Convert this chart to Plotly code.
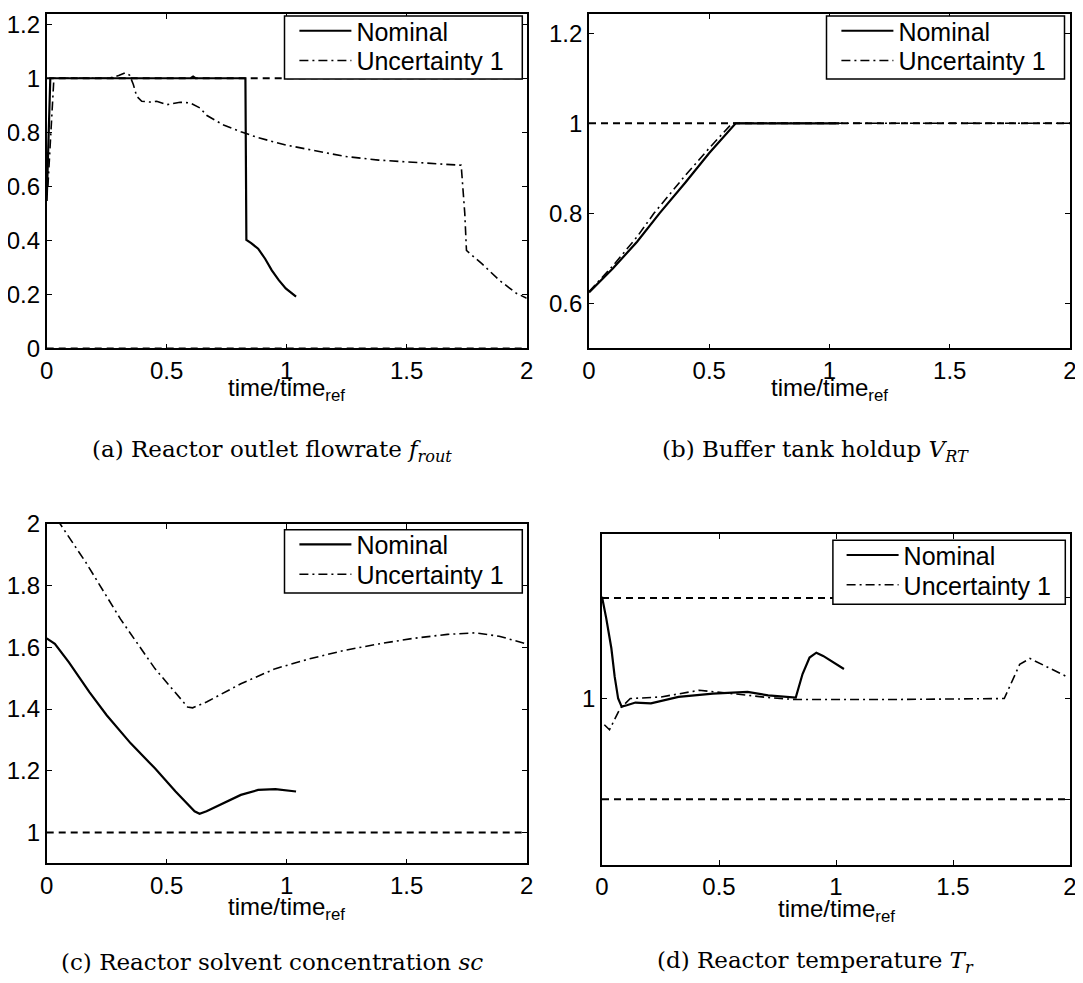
import plotly.graph_objects as go

# The page body has an 8px default margin; the figure is sized/offset so the
# visible picture lines up with the 1083x983 window.
OFF = 8
W, H = 1083 - OFF, 983 - OFF

# ---------------- data ----------------
# (a) Reactor outlet flowrate
a_nom_t = [0.0, 0.015, 0.10, 0.30, 0.60, 0.61, 0.62, 0.828, 0.832, 0.852, 0.881, 0.910, 0.938, 0.967, 0.996, 1.039]
a_nom_y = [0.546, 1.0, 1.0, 1.0, 1.0, 1.006, 1.0, 1.0, 0.402, 0.390, 0.369, 0.332, 0.289, 0.253, 0.222, 0.192]
a_unc_t = [0.005, 0.03, 0.10, 0.26, 0.30, 0.326, 0.345, 0.361, 0.375, 0.396, 0.43, 0.458, 0.50, 0.556, 0.597,
           0.639, 0.666, 0.737, 0.809, 0.881, 0.996, 1.096, 1.24, 1.383, 1.527, 1.67, 1.727, 1.742, 1.749,
           1.756, 1.813, 1.885, 1.957, 2.0]
a_unc_y = [0.60, 1.0, 1.0, 1.0, 1.01, 1.02, 1.012, 0.977, 0.933, 0.915, 0.912, 0.915, 0.902, 0.911, 0.909,
           0.89, 0.863, 0.827, 0.802, 0.780, 0.753, 0.735, 0.711, 0.697, 0.689, 0.680, 0.678, 0.50, 0.363,
           0.357, 0.314, 0.253, 0.204, 0.186]
a_bounds = [0.0, 1.0]

# (b) Buffer tank holdup
b_nom_t = [0.0, 0.1, 0.2, 0.293, 0.4, 0.5, 0.61, 1.04]
b_nom_y = [0.6245, 0.678, 0.737, 0.80, 0.868, 0.934, 1.0, 1.0]
b_unc_t = [0.0, 0.1, 0.2, 0.27, 0.4, 0.5, 0.595, 2.0]
b_unc_y = [0.626, 0.684, 0.748, 0.80, 0.884, 0.945, 1.0, 1.0]
b_bounds = [1.0]

# (c) Reactor solvent concentration
c_nom_t = [0.0, 0.034, 0.092, 0.178, 0.25, 0.35, 0.451, 0.537, 0.616, 0.637, 0.666, 0.737, 0.809, 0.881, 0.953, 1.039]
c_nom_y = [1.629, 1.611, 1.552, 1.455, 1.380, 1.289, 1.208, 1.133, 1.069, 1.061, 1.069, 1.096, 1.122, 1.138, 1.141, 1.133]
c_unc_t = [0.0, 0.056, 0.164, 0.307, 0.451, 0.587, 0.608, 0.666, 0.809, 0.953, 1.096, 1.24, 1.383, 1.527, 1.67, 1.785, 1.885, 2.0]
c_unc_y = [2.065, 2.0, 1.874, 1.692, 1.531, 1.407, 1.404, 1.423, 1.482, 1.531, 1.563, 1.590, 1.611, 1.629, 1.642, 1.647, 1.636, 1.611]
c_bounds = [1.0]

# (d) Reactor temperature
d_nom_t = [0.0, 0.018, 0.040, 0.054, 0.069, 0.084, 0.106, 0.143, 0.209, 0.327, 0.474, 0.622, 0.71, 0.828, 0.857, 0.887, 0.916, 0.945, 1.034]
d_nom_y = [1.0506, 1.040, 1.025, 1.011, 1.0, 0.996, 0.9967, 0.998, 0.9976, 1.0008, 1.0024, 1.0033, 1.0016, 1.0005, 1.0122, 1.0204, 1.0228, 1.0212, 1.0147]
d_unc_t = [0.01, 0.032, 0.077, 0.121, 0.253, 0.415, 0.563, 0.71, 0.828, 1.21, 1.719, 1.785, 1.829, 1.903, 1.991]
d_unc_y = [0.987, 0.9845, 0.995, 1.0, 1.0008, 1.0041, 1.0024, 1.0005, 0.9995, 0.9995, 1.0, 1.017, 1.0199, 1.0155, 1.0106]
d_bounds = [1.05, 0.95]

x_ticks = [0, 0.5, 1, 1.5, 2]
x_ticktext = ["0", "0.5", "1", "1.5", "2"]
series_names = ["Nominal", "Uncertainty 1"]

captions = [
    "(a) Reactor outlet flowrate <i>f</i><sub><i>rout</i></sub>",
    "(b) Buffer tank holdup <i>V</i><sub><i>RT</i></sub>",
    "(c) Reactor solvent concentration <i>sc</i>",
    "(d) Reactor temperature <i>T</i><sub><i>r</i></sub>",
]

# ---------------- layout geometry (window pixels) ----------------
# box = legend frame (x0, y0, x1, y1); text_x = where entry text starts
panels = [
    dict(xl=46.7, xr=526.7, yt=4.7, yb=344.5, yr=[0, 1.25],
         yt_vals=[0, 0.2, 0.4, 0.6, 0.8, 1.0, 1.2], yt_text=["0", "0.2", "0.4", "0.6", "0.8", "1", "1.2"],
         box=(284.5, 10.0, 522.3, 73.5), text_x=356.4, cap=(272, 448),
         nom=(a_nom_t, a_nom_y), unc=(a_unc_t, a_unc_y), bounds=a_bounds),
    dict(xl=589.0, xr=1070.0, yt=4.7, yb=344.5, yr=[0.5, 1.25],
         yt_vals=[0.6, 0.8, 1.0, 1.2], yt_text=["0.6", "0.8", "1", "1.2"],
         box=(826.5, 10.0, 1064.5, 73.5), text_x=898.4, cap=(815, 448),
         nom=(b_nom_t, b_nom_y), unc=(b_unc_t, b_unc_y), bounds=b_bounds),
    dict(xl=46.7, xr=526.7, yt=521.0, yb=862.7, yr=[0.9, 2.0],
         yt_vals=[1.0, 1.2, 1.4, 1.6, 1.8, 2.0], yt_text=["1", "1.2", "1.4", "1.6", "1.8", "2"],
         box=(284.5, 527.0, 522.3, 590.5), text_x=356.4, cap=(272, 962),
         nom=(c_nom_t, c_nom_y), unc=(c_unc_t, c_unc_y), bounds=c_bounds),
    dict(xl=602.0, xr=1070.0, yt=531.0, yb=864.0, yr=[0.9174, 1.0819],
         yt_vals=[0.95, 1.0, 1.05], yt_text=["", "1", ""],
         box=(832.9, 537.6, 1065.3, 602.0), text_x=903.6, cap=(815, 962),
         nom=(d_nom_t, d_nom_y), unc=(d_unc_t, d_unc_y), bounds=d_bounds),
]


def px(x):
    return (x - OFF) / W


def py(y):
    return 1 - (y - OFF) / H


FONT = "Liberation Sans"
SERIF = "DejaVu Serif"
TEXT_OFFSET = 72  # legend left -> entry text start (indentation + itemwidth)

fig = go.Figure()
annotations = []
shapes = []
leg_idx = 0

for i, p in enumerate(panels, start=1):
    xa = "x" if i == 1 else f"x{i}"
    ya = "y" if i == 1 else f"y{i}"

    yt, yb = p["yt"], p["yb"]
    y0, y1 = p["yr"]
    if yt < OFF:
        y1 = y1 - (OFF - yt) * (y1 - y0) / (yb - yt)
        yt = OFF

    for b in p["bounds"]:
        fig.add_trace(go.Scatter(x=[0, 2], y=[b, b], mode="lines", xaxis=xa, yaxis=ya,
                                 line=dict(color="black", width=2, dash="7px,5px"),
                                 showlegend=False, hoverinfo="skip"))

    bx0, by0, bx1, by1 = p["box"]
    row_centers = [by0 + 15.0, by0 + 45.0]
    styles = [dict(color="black", width=2.2),
              dict(color="black", width=1.6, dash="9px,4px,2px,4px")]
    for k, (tt, yy) in enumerate([p["nom"], p["unc"]]):
        leg_idx += 1
        leg = "legend" if leg_idx == 1 else f"legend{leg_idx}"
        fig.add_trace(go.Scatter(x=tt, y=yy, mode="lines", name=series_names[k],
                                 xaxis=xa, yaxis=ya, legend=leg, line=styles[k]))
        fig.layout[leg] = dict(
            x=px(p["text_x"] - TEXT_OFFSET), y=py(row_centers[k]),
            xanchor="left", yanchor="middle", xref="paper", yref="paper",
            bgcolor="rgba(0,0,0,0)", borderwidth=0,
            font=dict(family=FONT, size=25, color="black"),
            itemwidth=52, indentation=10)

    # legend frame (white, covers the curves like the original legend box)
    shapes.append(dict(type="rect", xref="paper", yref="paper",
                       x0=px(bx0), x1=px(bx1), y0=py(by1), y1=py(by0),
                       fillcolor="white", line=dict(color="black", width=1.5), layer="above"))

    axis_common = dict(showline=True, linecolor="black", linewidth=1.6, mirror="ticks",
                       ticks="inside", ticklen=5, tickwidth=1, tickcolor="black",
                       showgrid=False, zeroline=False, automargin=False,
                       ticklabeloverflow="allow",
                       tickfont=dict(family=FONT, size=24, color="black"))
    fig.layout[("xaxis" if i == 1 else f"xaxis{i}")] = dict(
        domain=[px(p["xl"]), px(p["xr"])], anchor=ya, range=[0, 2],
        tickvals=x_ticks, ticktext=x_ticktext, **axis_common)
    fig.layout[("yaxis" if i == 1 else f"yaxis{i}")] = dict(
        domain=[py(yb), min(1.0, py(yt))], anchor=xa, range=[y0, y1],
        tickvals=p["yt_vals"], ticktext=p["yt_text"], **axis_common)

    xc = (p["xl"] + p["xr"]) / 2
    title_top = p["yb"] + (24 if i <= 2 else 28)
    annotations.append(dict(x=px(xc), y=py(title_top), xref="paper", yref="paper",
                            xanchor="center", yanchor="top", showarrow=False,
                            text="time/time<sub>ref</sub>",
                            font=dict(family=FONT, size=24, color="black")))
    annotations.append(dict(x=px(p["cap"][0]), y=py(p["cap"][1]), xref="paper", yref="paper",
                            xanchor="center", yanchor="middle", showarrow=False,
                            text=captions[i - 1],
                            font=dict(family=SERIF, size=23, color="black")))

fig.update_layout(width=W, height=H, margin=dict(l=0, r=0, t=0, b=0),
                  paper_bgcolor="white", plot_bgcolor="white",
                  annotations=annotations, shapes=shapes, showlegend=True)

fig.write_html("out.html")
